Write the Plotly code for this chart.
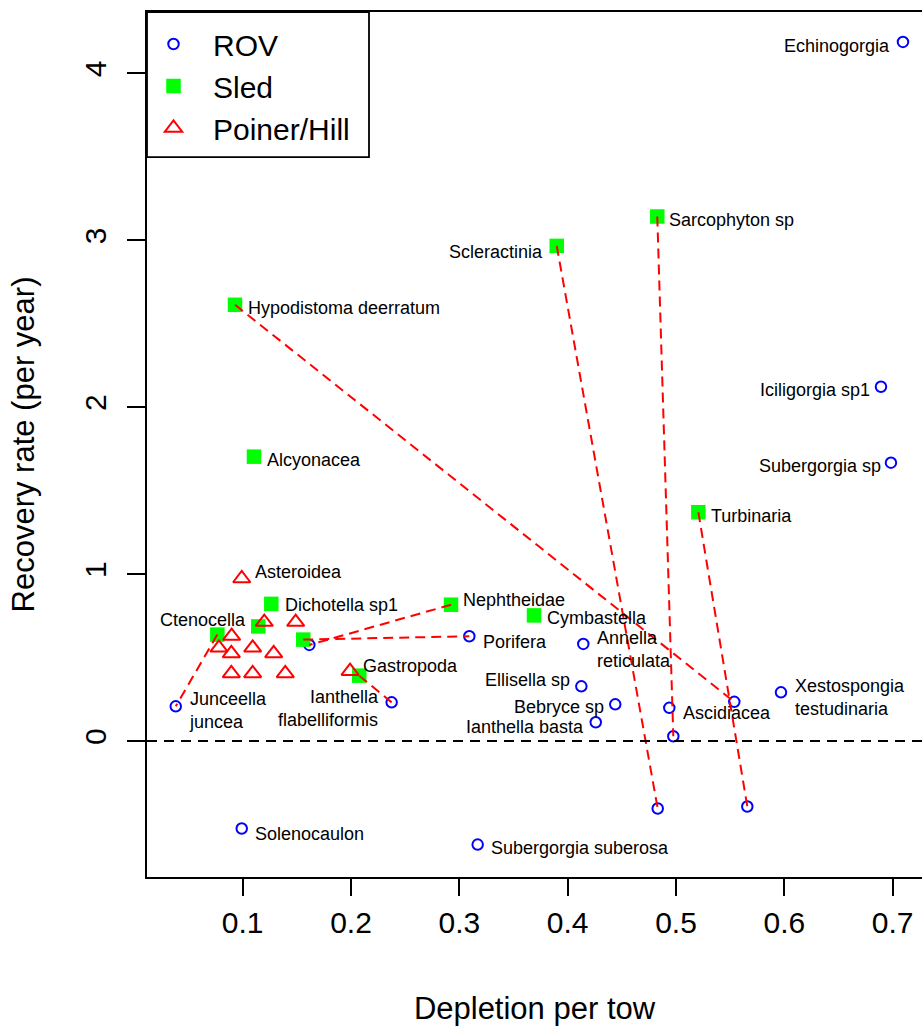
import plotly.graph_objects as go

# ---------------- data ----------------
rov_names = ["Echinogorgia", "Iciligorgia sp1", "Subergorgia sp",
             "Xestospongia\ntestudinaria", "Ascidiacea", "Annella\nreticulata",
             "Porifera", "Ellisella sp", "Bebryce sp", "Ianthella basta",
             "Ianthella\nflabelliformis", "Junceella\njuncea", "Solenocaulon",
             "Subergorgia suberosa", "", "", "", "", ""]
rov_x = [0.7095, 0.6892, 0.6984, 0.5969, 0.4938, 0.4144, 0.3092, 0.4126, 0.4439,
         0.4259, 0.2375, 0.0382, 0.0991, 0.3169, 0.1615, 0.4975, 0.5538, 0.4831, 0.5658]
rov_y = [4.189, 2.123, 1.668, 0.292, 0.199, 0.582, 0.628, 0.328, 0.220,
         0.113, 0.232, 0.208, -0.524, -0.620, 0.576, 0.029, 0.235, -0.404, -0.392]

sled_names = ["Sarcophyton sp", "Scleractinia", "Hypodistoma deerratum", "Alcyonacea",
              "Turbinaria", "Dichotella sp1", "Ctenocella", "", "Nephtheidae",
              "Cymbastella", "", ""]
sled_x = [0.4827, 0.3899, 0.0929, 0.1104, 0.5206, 0.1264, 0.0766, 0.1144, 0.2923,
          0.3689, 0.1559, 0.2076]
sled_y = [3.143, 2.967, 2.614, 1.704, 1.371, 0.822, 0.638, 0.687, 0.817,
          0.753, 0.608, 0.392]

ph_names = ["Asteroidea", "", "", "", "", "", "", "", "", "", "", "Gastropoda"]
ph_x = [0.0991, 0.1199, 0.1489, 0.0898, 0.0781, 0.1092, 0.0895, 0.1286,
        0.0895, 0.1092, 0.1393, 0.1991]
ph_y = [0.974, 0.713, 0.713, 0.629, 0.559, 0.559, 0.525, 0.525,
        0.405, 0.405, 0.405, 0.419]

# dashed links: sled point index -> ROV point index
link_sled = [2, 1, 0, 4, 6, 10, 8, 11]
link_rov = [16, 17, 15, 18, 11, 6, 14, 10]

x_ticks = [0.1, 0.2, 0.3, 0.4, 0.5, 0.6, 0.7]
x_ticktext = ["0.1", "0.2", "0.3", "0.4", "0.5", "0.6", "0.7"]
y_ticks = [0, 1, 2, 3, 4]
y_ticktext = ["0", "1", "2", "3", "4"]

# ---------------- label placement (style) ----------------
# name -> (anchor side, text-edge offset px, cap-centre offset px (down +))
label_place = {
    "Echinogorgia": ("right", -13, 4), "Iciligorgia sp1": ("right", -11, 3),
    "Subergorgia sp": ("right", -10, 3), "Xestospongia\ntestudinaria": ("left", 14, 5),
    "Ascidiacea": ("left", 14, 5), "Annella\nreticulata": ("left", 14, 6),
    "Porifera": ("left", 14, 5.5), "Ellisella sp": ("right", -11, -6.5),
    "Bebryce sp": ("right", -11, 3), "Ianthella basta": ("right", -12, 5),
    "Ianthella\nflabelliformis": ("right", -12.5, 6), "Junceella\njuncea": ("left", 13.5, 4),
    "Solenocaulon": ("left", 13.3, 5), "Subergorgia suberosa": ("left", 13.3, 3),
    "Sarcophyton sp": ("left", 12, 3), "Scleractinia": ("right", -13.4, 5.7),
    "Hypodistoma deerratum": ("left", 13, 3), "Alcyonacea": ("left", 13, 3),
    "Turbinaria": ("left", 12.7, 3.5), "Dichotella sp1": ("left", 13.7, 1.4),
    "Ctenocella": ("right", 28.7, -15), "Nephtheidae": ("left", 11.7, -4.3),
    "Cymbastella": ("left", 12.7, 2.6), "Asteroidea": ("left", 13.3, -6.5),
    "Gastropoda": ("left", 12.7, -5.5),
}

FONT = "Liberation Sans, Arial, Helvetica, sans-serif"

fig = go.Figure()
fig.add_trace(go.Scatter(x=rov_x, y=rov_y, mode="markers", name="ROV",
                         marker=dict(symbol="circle-open", size=10.5, color="#0000FF",
                                     line=dict(width=2, color="#0000FF"))))
fig.add_trace(go.Scatter(x=sled_x, y=sled_y, mode="markers", name="Sled",
                         marker=dict(symbol="square", size=14.5, color="#00FF00",
                                     line=dict(width=0))))
fig.add_trace(go.Scatter(x=ph_x, y=ph_y, mode="markers", name="Poiner/Hill",
                         marker=dict(symbol="triangle-up-open", size=15, color="#FF0000",
                                     line=dict(width=2, color="#FF0000"))))

lx, ly = [], []
for s, r in zip(link_sled, link_rov):
    lx += [sled_x[s], rov_x[r], None]
    ly += [sled_y[s], rov_y[r], None]
fig.add_trace(go.Scatter(x=lx, y=ly, mode="lines", showlegend=False, hoverinfo="skip",
                         line=dict(color="#FF0000", width=2, dash="10px,6px")))

annotations = []
for names, xs, ys in [(rov_names, rov_x, rov_y), (sled_names, sled_x, sled_y),
                      (ph_names, ph_x, ph_y)]:
    for n, x, y in zip(names, xs, ys):
        if not n:
            continue
        side, dx, dy = label_place[n]
        annotations.append(dict(
            x=x, y=y, xref="x", yref="y", text=n.replace("\n", "<br>"),
            showarrow=False, xanchor=side, yanchor="middle", align=side,
            xshift=dx, yshift=-dy, borderpad=0, borderwidth=0,
            font=dict(family=FONT, size=18, color="#000000")))

x_lo = 0.1 + (147 - 242.7) / 1083.3
x_hi = 0.1 + (922 - 242.7) / 1083.3
y_lo = (741.5 - 877.5) / 167
y_hi = (741.5 - 12) / 167

fig.update_layout(
    width=922, height=1026,
    margin=dict(l=147, r=0, t=12, b=148.5, pad=0),
    paper_bgcolor="white", plot_bgcolor="white",
    font=dict(family=FONT, color="#000000"),
    showlegend=True,
    legend=dict(x=-13 / 775, y=1 - 6 / 865.5, xanchor="left", yanchor="top",
                bgcolor="rgba(0,0,0,0)", borderwidth=0,
                font=dict(family=FONT, size=30, color="#000000"),
                itemwidth=69, tracegroupgap=0),
    annotations=annotations,
    shapes=[
        dict(type="line", xref="paper", yref="y", x0=0, x1=1, y0=0, y1=0,
             line=dict(color="#000000", width=2, dash="10px,7px"), layer="above"),
        dict(type="rect", xref="paper", yref="paper",
             x0=0, x1=(369 - 147) / 775, y0=1 - (157.3 - 12) / 865.5, y1=1,
             line=dict(color="#000000", width=1.8), fillcolor="rgba(0,0,0,0)"),
    ],
    xaxis=dict(range=[x_lo, x_hi], tickvals=x_ticks, ticktext=x_ticktext,
               ticks="outside", ticklen=17, tickwidth=1.5, tickcolor="#000000",
               showline=True, linewidth=1.8, linecolor="#000000", mirror=True,
               showgrid=False, zeroline=False,
               tickfont=dict(family=FONT, size=30, color="#000000"),
               ticklabelstandoff=1,
               title=dict(text="Depletion per tow", standoff=59,
                          font=dict(family=FONT, size=31, color="#000000")),
               automargin=False),
    yaxis=dict(range=[y_lo, y_hi], tickvals=y_ticks, ticktext=y_ticktext,
               ticks="outside", ticklen=18, tickwidth=1.5, tickcolor="#000000",
               showline=True, linewidth=1.8, linecolor="#000000", mirror=False,
               showgrid=False, zeroline=False, tickangle=-90,
               tickfont=dict(family=FONT, size=30, color="#000000"),
               ticklabelstandoff=9,
               title=dict(text="Recovery rate (per year)", standoff=35,
                          font=dict(family=FONT, size=31, color="#000000")),
               automargin=False),
)

fig.write_html("out.html",
               config={"displayModeBar": False},
               post_script="document.body.style.margin='0px';"
                           "document.body.style.overflow='hidden';")
